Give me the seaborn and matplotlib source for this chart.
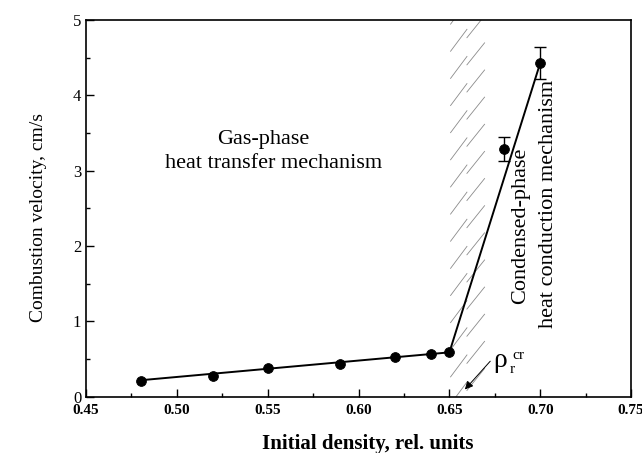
import matplotlib
matplotlib.use("Agg")
import matplotlib.pyplot as plt
import seaborn as sns
import numpy as np
import pandas as pd
from matplotlib.ticker import MultipleLocator, FormatStrFormatter

# data
density = [0.48, 0.52, 0.55, 0.59, 0.62, 0.64, 0.65, 0.68, 0.70]
velocity = [0.21, 0.28, 0.38, 0.43, 0.53, 0.57, 0.59, 3.29, 4.43]
err_x = [0.68, 0.70]
err_y = [3.29, 4.43]
err_v = [0.16, 0.21]
fit_x = [0.48, 0.65, 0.70]
fit_y = [0.22, 0.59, 4.43]
crit_lo, crit_hi = 0.65, 0.67

sns.set_theme(style="ticks")
plt.rcParams['font.family'] = ['Liberation Serif', 'DejaVu Serif']

fig = plt.figure(figsize=(6.42, 4.53), dpi=100)
ax = fig.add_axes([0.134, 0.124, 0.849, 0.832])

# hatched critical-density band (steep broken hatch lines, two staggered columns)
mid = (crit_lo + crit_hi) / 2
period, seg_h = 0.36, 0.30
for x0, x1, off in [(crit_lo + 0.0005, mid - 0.0002, 0.0),
                    (mid - 0.0005, crit_hi - 0.0005, period / 2)]:
    for yb in np.arange(-0.1 + off, 5.0, period):
        ax.plot([x0, x1], [yb, yb + seg_h], color='#8a8a8a', lw=0.6, zorder=0,
                solid_capstyle='butt')

df_fit = pd.DataFrame({'x': fit_x, 'y': fit_y})
sns.lineplot(data=df_fit, x='x', y='y', ax=ax, color='black', linewidth=1.4, sort=False, zorder=2)
df = pd.DataFrame({'x': density, 'y': velocity})
sns.scatterplot(data=df, x='x', y='y', ax=ax, color='black', s=50, edgecolor='black', zorder=3)
ax.errorbar(err_x, err_y, yerr=err_v, fmt='none', ecolor='black', elinewidth=1.0,
            capsize=4, capthick=1.0, zorder=3)

ax.set_xlim(0.45, 0.75)
ax.set_ylim(0, 5)
ax.xaxis.set_major_locator(MultipleLocator(0.05))
ax.xaxis.set_minor_locator(MultipleLocator(0.025))
ax.yaxis.set_major_locator(MultipleLocator(1))
ax.yaxis.set_minor_locator(MultipleLocator(0.5))
ax.xaxis.set_major_formatter(FormatStrFormatter('%.2f'))
ax.tick_params(which='both', direction='in', labelsize=11, colors='black')
ax.tick_params(which='major', length=6, width=1)
ax.tick_params(which='minor', length=3, width=1)
ax.tick_params(axis='x', pad=5)
for lab in ax.get_xticklabels():
    lab.set_fontweight('bold')
for lab in ax.get_yticklabels():
    lab.set_fontsize(12)
for s in ax.spines.values():
    s.set_color('black')
    s.set_linewidth(1.2)

ax.set_xlabel('Initial density, rel. units', fontsize=15, fontweight='bold', color='black')
ax.set_ylabel('Combustion velocity, cm/s', fontsize=14, color='black')
ax.xaxis.set_label_coords(0.516, -0.098)
ax.yaxis.set_label_coords(-0.072, 0.475)

ax.text(0.5474, 3.42, 'Gas-phase', ha='center', va='center', fontsize=16, color='black')
ax.text(0.5530, 3.10, 'heat transfer mechanism', ha='center', va='center', fontsize=16, color='black')
ax.text(0.6894, 2.27, 'Condensed-phase', ha='center', va='center', rotation=90,
        fontsize=16, color='black')
ax.text(0.7043, 2.56, 'heat conduction mechanism', ha='center', va='center', rotation=90,
        fontsize=16, color='black')

ax.annotate('', xy=(0.6575, 0.07), xytext=(0.6735, 0.50),
            arrowprops=dict(arrowstyle='-|>', color='black', lw=0.7, mutation_scale=12))
ax.text(0.6740, 0.32, 'ρ', fontsize=20, ha='left', va='bottom', color='black')
ax.text(0.6833, 0.28, 'r', fontsize=11, ha='left', va='bottom', color='black')
ax.text(0.6847, 0.46, 'cr', fontsize=11, ha='left', va='bottom', color='black')

fig.savefig('out.png', dpi=100)
